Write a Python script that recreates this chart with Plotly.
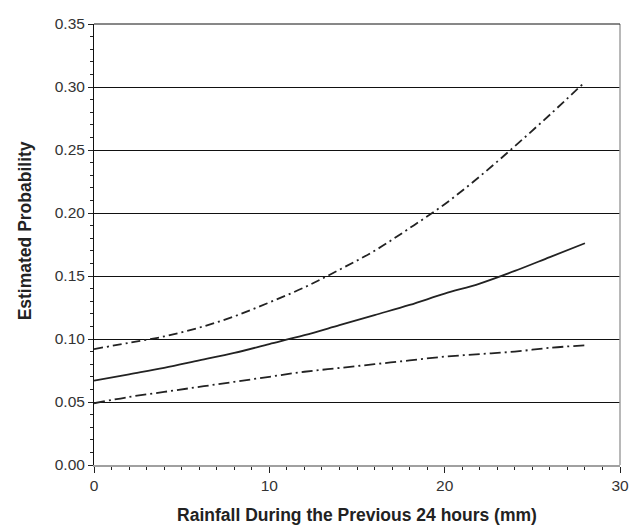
import plotly.graph_objects as go

rainfall = [0, 2, 4, 6, 8, 10, 12, 14, 16, 18, 20, 22, 24, 26, 28]
estimate = [0.067, 0.072, 0.077, 0.083, 0.089, 0.096, 0.103, 0.111, 0.119, 0.127, 0.136, 0.144, 0.154, 0.165, 0.176]
upper = [0.092, 0.097, 0.102, 0.109, 0.118, 0.129, 0.141, 0.155, 0.170, 0.188, 0.207, 0.229, 0.253, 0.278, 0.304]
lower = [0.049, 0.054, 0.058, 0.062, 0.066, 0.070, 0.074, 0.077, 0.080, 0.083, 0.086, 0.088, 0.090, 0.093, 0.095]

x_ticks = [0, 10, 20, 30]
y_ticks = [0.00, 0.05, 0.10, 0.15, 0.20, 0.25, 0.30, 0.35]

fig = go.Figure()
fig.add_trace(go.Scatter(x=rainfall, y=upper, mode="lines", line=dict(color="#222222", width=1.8, dash="9px,4px,2px,4px", shape="spline")))
fig.add_trace(go.Scatter(x=rainfall, y=estimate, mode="lines", line=dict(color="#222222", width=1.8, shape="spline")))
fig.add_trace(go.Scatter(x=rainfall, y=lower, mode="lines", line=dict(color="#222222", width=1.8, dash="11px,4px,2px,4px", shape="spline")))

font = "Liberation Sans, Arial, sans-serif"
fig.update_layout(
    width=643, height=525,
    margin=dict(l=86, r=31, t=16, b=68),
    paper_bgcolor="white", plot_bgcolor="white",
    showlegend=False,
    font=dict(family=font, size=15, color="#222222"),
    xaxis=dict(
        range=[0, 30], tickvals=x_ticks, ticktext=[str(v) for v in x_ticks],
        automargin=False,
        showgrid=False, zeroline=False,
        showline=True, linecolor="#a0a0a0", linewidth=1.5,
        ticks="outside", ticklen=6, tickcolor="#222222",
        minor=dict(dtick=1, tick0=0, ticks="outside", ticklen=3, tickcolor="#222222", showgrid=False),
        title=dict(text="<b>Rainfall During the Previous 24 hours (mm)</b>", font=dict(size=17.5, family=font), standoff=15),
        tickfont=dict(size=15.5, color="#333333"),
    ),
    yaxis=dict(
        range=[0, 0.35], tickvals=y_ticks, ticktext=[f"{v:.2f}" for v in y_ticks],
        automargin=False,
        showgrid=True, gridcolor="#111111", gridwidth=1, zeroline=False,
        showline=True, linecolor="#111111", linewidth=1,
        ticks="outside", ticklen=5, tickcolor="#222222",
        minor=dict(dtick=0.01, tick0=0, ticks="outside", ticklen=3, tickcolor="#222222", showgrid=False),
        tickfont=dict(size=15.5, color="#333333"),
    ),
    annotations=[
        dict(text="<b>Estimated Probability</b>", xref="paper", yref="paper",
             x=-0.131, y=0.53, xanchor="center", yanchor="middle", textangle=-90,
             showarrow=False, font=dict(size=17.5, family=font, color="#222222")),
    ],
    shapes=[
        dict(type="line", xref="paper", yref="paper", x0=1, x1=1, y0=0, y1=1,
             line=dict(color="#a0a0a0", width=1.5)),
        dict(type="line", xref="paper", yref="paper", x0=0, x1=1, y0=1, y1=1,
             line=dict(color="#111111", width=1)),
    ],
)

fig.write_html("out.html")
